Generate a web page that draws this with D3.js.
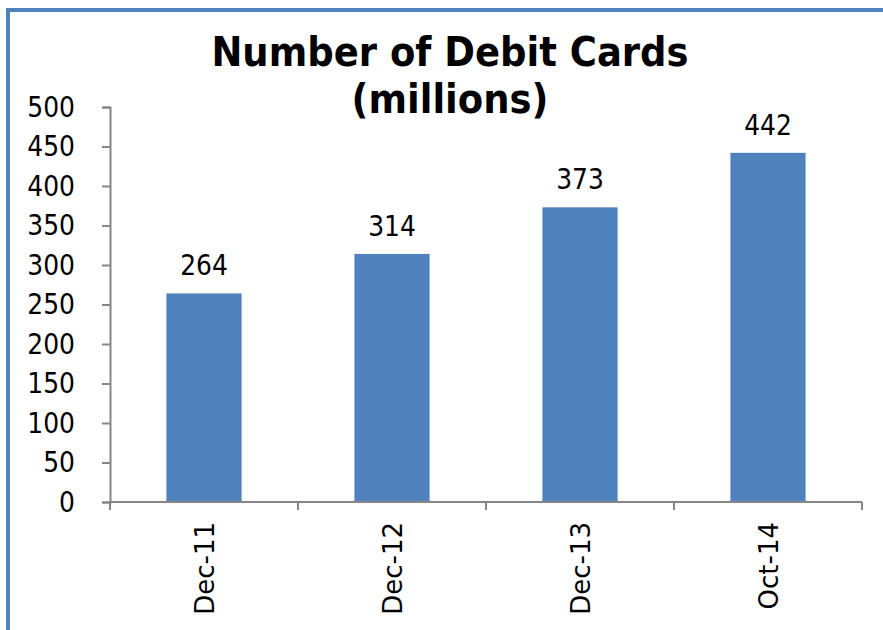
<!DOCTYPE html>
<html>
<head>
<meta charset="utf-8">
<script src="https://cdn.jsdelivr.net/npm/d3@7"></script>
<style>
  html, body { margin: 0; padding: 0; background: #fff; }
  svg { display: block; }
  text { font-family: "DejaVu Sans", Verdana, sans-serif; fill: #000; }
</style>
</head>
<body>
<script>
// Debit cards issued, in millions
const categories = ["Dec-11", "Dec-12", "Dec-13", "Oct-14"];
const values = [264, 314, 373, 442];
const yTicks = [0, 50, 100, 150, 200, 250, 300, 350, 400, 450, 500];
const titleLines = ["Number of Debit Cards", "(millions)"];

const W = 883, H = 630;
const plot = { left: 110, right: 862, top: 107, bottom: 502 };
const stretch = 1.12; // vertical text stretch

const svg = d3.select("body").append("svg")
  .attr("width", W).attr("height", H);

// outer frame (left and top edges visible)
svg.append("rect")
  .attr("x", 8).attr("y", 10)
  .attr("width", W + 20).attr("height", H + 20)
  .attr("fill", "none")
  .attr("stroke", "#4F81BD")
  .attr("stroke-width", 4);

const x = d3.scaleBand()
  .domain(categories)
  .range([plot.left, plot.right])
  .paddingInner(0.6)
  .paddingOuter(0.3);

const y = d3.scaleLinear()
  .domain([0, 500])
  .range([plot.bottom, plot.top]);

// bars
svg.append("g").selectAll("rect")
  .data(values)
  .join("rect")
  .attr("x", (d, i) => x(categories[i]))
  .attr("y", d => y(d))
  .attr("width", x.bandwidth())
  .attr("height", d => y(0) - y(d))
  .attr("fill", "#4F81BD");

// value labels
svg.append("g").selectAll("text")
  .data(values)
  .join("text")
  .attr("transform", (d, i) =>
    `translate(${x(categories[i]) + x.bandwidth() / 2},${y(d) - 18}) scale(1,${stretch})`)
  .attr("text-anchor", "middle")
  .style("font-size", "25px")
  .text(d => d);

// y axis
const yAxis = svg.append("g")
  .attr("transform", `translate(${plot.left},0)`)
  .call(d3.axisLeft(y).tickValues(yTicks).tickSize(8).tickPadding(0).tickFormat(d3.format("d")));
yAxis.select(".domain").attr("stroke", "#868686").attr("stroke-width", 2);
yAxis.selectAll(".tick line").attr("stroke", "#868686").attr("stroke-width", 2);
yAxis.selectAll(".tick text")
  .attr("x", -35).attr("dy", null)
  .attr("transform", `translate(0,9) scale(1,${stretch})`)
  .style("font-size", "25px")
  .attr("fill", "#000");

// x axis: baseline with ticks at category boundaries
const bounds = d3.range(categories.length + 1).map(i =>
  plot.left + i * (plot.right - plot.left) / categories.length);
const xAxis = svg.append("g");
xAxis.append("line")
  .attr("x1", plot.left).attr("x2", plot.right)
  .attr("y1", y(0)).attr("y2", y(0))
  .attr("stroke", "#868686").attr("stroke-width", 2);
xAxis.selectAll("line.tick")
  .data(bounds)
  .join("line")
  .attr("class", "tick")
  .attr("x1", d => d).attr("x2", d => d)
  .attr("y1", y(0)).attr("y2", y(0) + 8)
  .attr("stroke", "#868686").attr("stroke-width", 2);

// category labels, rotated
xAxis.selectAll("text")
  .data(categories)
  .join("text")
  .attr("transform", d =>
    `translate(${x(d) + x.bandwidth() / 2 + 10},${y(0) + 20}) rotate(-90)`)
  .attr("text-anchor", "end")
  .style("font-size", "26px")
  .text(d => d);

// title
svg.append("g").selectAll("text")
  .data(titleLines)
  .join("text")
  .attr("transform", (d, i) => `translate(450,${66 + i * 47}) scale(1,${stretch})`)
  .attr("text-anchor", "middle")
  .style("font-size", "37px")
  .style("font-weight", "bold")
  .text(d => d);
</script>
</body>
</html>
